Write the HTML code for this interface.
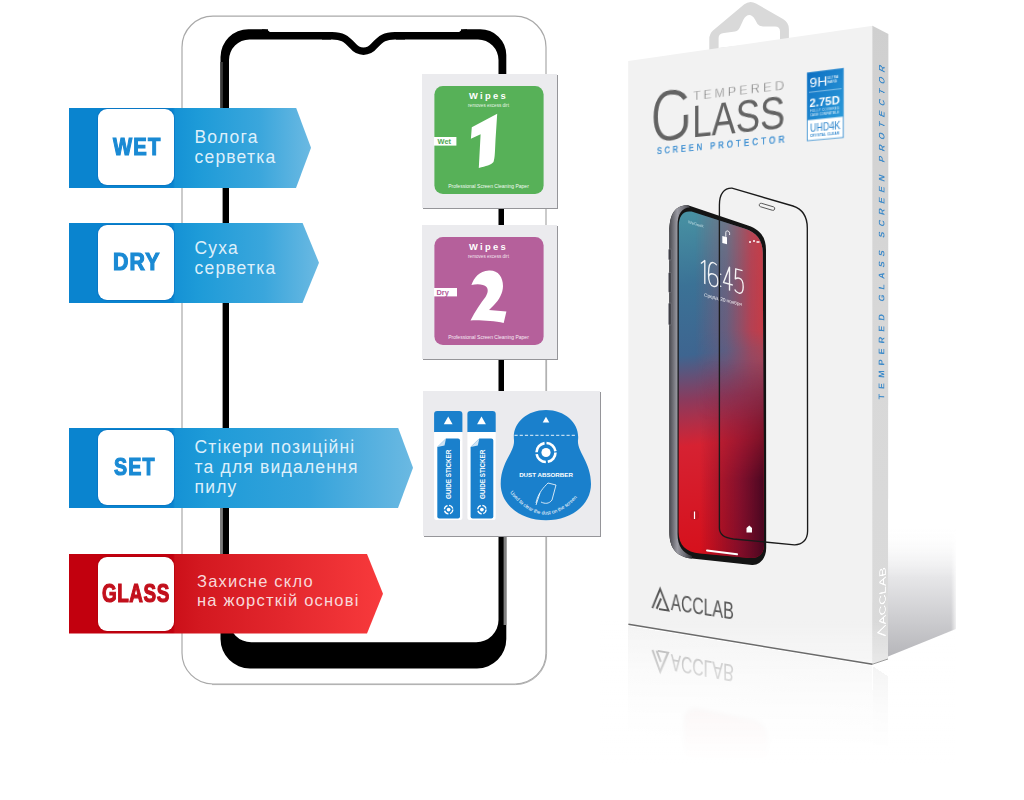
<!DOCTYPE html>
<html><head><meta charset="utf-8">
<style>
html,body{margin:0;padding:0;background:#fff;}
body{width:1024px;height:800px;position:relative;overflow:hidden;font-family:"Liberation Sans",sans-serif;}
.abs{position:absolute;}
svg{position:absolute;left:0;top:0;}
.ban{position:absolute;left:69px;}
.ban .shape{position:absolute;left:0;top:0;width:100%;height:100%;}
.box{position:absolute;left:29px;background:#fff;border-radius:9px;box-shadow:0 0 0 1px rgba(10,110,190,.55);}
.lbl{position:absolute;font-weight:bold;white-space:nowrap;transform-origin:0 0;line-height:1;-webkit-text-stroke:1.2px currentColor;}
.txt{position:absolute;color:rgba(245,251,255,0.9);font-size:17.5px;line-height:20px;white-space:nowrap;letter-spacing:1.2px;}
.pk{position:absolute;background:#ebebee;box-shadow:1px 1px 0 #959599;}
</style></head><body>

<!-- LEFT: phone frame illustration -->
<svg width="1024" height="800" viewBox="0 0 1024 800">
  <rect x="182" y="16.2" width="364" height="667.8" rx="31" ry="31" fill="none" stroke="#a9a9a9" stroke-width="1.2"/>
  <path d="M212 684.6 H515.6 A31 31 0 0 0 546.6 653.6 V300" stroke="#b0b0b0" stroke-width="1" fill="none"/>
  <path fill="#000" fill-rule="evenodd" d="
    M220.5 57 A28 28 0 0 1 248.5 29.2 L480 29.2 A26 26 0 0 1 506.3 55 L506.3 639 A29.4 29.4 0 0 1 477 668.4 L250 668.4 A29.5 29.5 0 0 1 220.5 639 Z
    M229 60 A20.5 20.5 0 0 1 249.5 39.5 L478 39.5 A20.5 20.5 0 0 1 498.5 60 L498.5 620 A22.3 22.3 0 0 1 476.2 642.3 L251.3 642.3 A22.3 22.3 0 0 1 229 620 Z"/>
  <rect x="268" y="27" width="193" height="5" fill="#fff"/>
  <rect x="219.5" y="150" width="3.1" height="300" fill="#fff"/>
  <rect x="220.3" y="450" width="2.6" height="175" fill="#7c7c7c"/>
  <rect x="220.3" y="62" width="2.6" height="90" fill="#3a3a3a"/>
  <rect x="504" y="150" width="3.5" height="380" fill="#fff"/>
  <rect x="503.6" y="530" width="2.7" height="95" fill="#808080"/>
  <path d="M262 29.2 Q268 29.2 270 32.2 L262 32.2 Z" fill="#000"/>
  <path d="M467 29.2 Q461 29.2 459 32.2 L467 32.2 Z" fill="#000"/>
  <rect x="331" y="31" width="65" height="10" fill="#fff"/>
  <path d="M322 35.75 H332 C342 35.75 346 38.5 352.5 45.5 C358.5 53 368.5 53 374.5 45.5 C381 38.5 385 35.75 395 35.75 H405" fill="none" stroke="#000" stroke-width="7.5"/>
</svg>

<!-- banners -->
<div class="ban" style="top:107.5px;width:242px;height:80.5px;">
  <div class="shape" style="clip-path:polygon(0 0,227px 0,242px 40.25px,227px 80.5px,0 80.5px);background:linear-gradient(90deg,#0a84cf 0px,#0a84cf 104px,#1592d5 106px,#1e9bd8 130px,#3aa6dc 190px,#6bb9e2 242px);"></div>
  <div class="box" style="top:1.3px;width:76px;height:76.5px;"></div>
</div>
<div class="ban" style="top:222.7px;width:250px;height:80.3px;">
  <div class="shape" style="clip-path:polygon(0 0,233.5px 0,250px 40.15px,233.5px 80.3px,0 80.3px);background:linear-gradient(90deg,#0a84cf 0px,#0a84cf 104px,#1592d5 106px,#1e9bd8 130px,#3aa6dc 195px,#6bb9e2 250px);"></div>
  <div class="box" style="top:2.3px;width:76px;height:75.5px;"></div>
</div>
<div class="ban" style="top:427.5px;width:344px;height:80.5px;">
  <div class="shape" style="clip-path:polygon(0 0,329px 0,344px 40.25px,329px 80.5px,0 80.5px);background:linear-gradient(90deg,#0a84cf 0px,#0a84cf 104px,#1592d5 106px,#1e9bd8 140px,#35a3db 240px,#6bb9e2 344px);"></div>
  <div class="box" style="top:2.3px;width:75.5px;height:75.7px;"></div>
</div>
<div class="ban" style="top:554px;width:314px;height:79.6px;">
  <div class="shape" style="clip-path:polygon(0 0,298px 0,314px 39.8px,298px 79.6px,0 79.6px);background:linear-gradient(90deg,#c2000e 0px,#c2000e 104px,#cc1019 106px,#d31820 130px,#e4282e 220px,#f83a3c 314px);"></div>
  <div class="box" style="top:2.6px;width:76.4px;height:74.7px;box-shadow:0 0 0 1px rgba(170,0,10,.5);"></div>
</div>

<!-- banner labels -->
<div class="lbl" style="left:112.8px;top:134.8px;font-size:24.4px;letter-spacing:0.06em;color:#1a8ad4;transform:scaleX(0.83);">WET</div>
<div class="lbl" style="left:113.3px;top:250.1px;font-size:24.2px;letter-spacing:0.05em;color:#1a8ad4;transform:scaleX(0.882);">DRY</div>
<div class="lbl" style="left:113.7px;top:455px;font-size:24.2px;letter-spacing:0.06em;color:#1a8ad4;transform:scaleX(0.813);">SET</div>
<div class="lbl" style="left:101.7px;top:581.3px;font-size:25.4px;letter-spacing:0.03em;color:#c2101c;transform:scaleX(0.743);">GLASS</div>

<div class="txt" style="left:194.5px;top:126.9px;">Волога<br>серветка</div>
<div class="txt" style="left:194.5px;top:238.4px;">Суха<br>серветка</div>
<div class="txt" style="left:194.5px;top:436.7px;">Стікери позиційні<br>та для видалення<br>пилу</div>
<div class="txt" style="left:197px;top:572px;color:#f8d8da;font-size:16.5px;line-height:18.5px;">Захисне скло<br>на жорсткій основі</div>


<!-- packets -->
<div class="pk" style="left:422px;top:73.6px;width:135px;height:134.4px;"></div>
<div class="pk" style="left:421.6px;top:225px;width:135.4px;height:134px;"></div>
<div class="pk" style="left:422.7px;top:391px;width:177.5px;height:145.2px;"></div>
<svg width="1024" height="800" viewBox="0 0 1024 800" style="font-family:'Liberation Sans',sans-serif;">
  <!-- wipes 1 -->
  <rect x="434.4" y="86" width="109.2" height="108" rx="8.5" fill="#57b158"/>
  <text x="488.5" y="99.3" fill="#fff" font-size="9.4" font-weight="bold" text-anchor="middle" letter-spacing="2.3">Wipes</text>
  <text x="488.5" y="106.5" fill="#e6f4e6" font-size="4.6" text-anchor="middle">removes excess dirt</text>
  <path d="M497.2 113.7 L471.8 127.3 L470.9 138.7 L480.6 134.3 L478.8 168 C486 166 491 165 493.5 162 C495 158 495 150 495.5 140 L497.2 113.7 Z" fill="#fff"/>
  <rect x="434" y="137" width="22.4" height="8.6" fill="#fff"/>
  <text x="437.6" y="144.2" fill="#4fa952" font-size="7.4" font-weight="bold">Wet</text>
  <text x="488.5" y="188" fill="#f2faf2" font-size="5" text-anchor="middle">Professional Screen Cleaning Paper</text>
  <!-- wipes 2 -->
  <rect x="434.4" y="237" width="109.2" height="108" rx="8.5" fill="#b5609b"/>
  <text x="488.5" y="250.3" fill="#fff" font-size="9.4" font-weight="bold" text-anchor="middle" letter-spacing="2.3">Wipes</text>
  <text x="488.5" y="257.5" fill="#f3e3ee" font-size="4.6" text-anchor="middle">removes excess dirt</text>
  <path d="M471.4 285 C474 278 479 271 489 270.5 C498 270 503 277 503 286 C503 293 499 300 494 305 L489 310 L506.4 311.5 L503.7 323 C494 321 480 320 470.5 320.5 C475 311 481 303 485.5 297 C488 293 488.5 289.5 486.5 287 C484 284 477 283.5 471.4 285 Z" fill="#fff"/>
  <rect x="434" y="288" width="23" height="8.4" fill="#fff"/>
  <text x="436.5" y="295.3" fill="#b25a98" font-size="7.4" font-weight="bold">Dry</text>
  <text x="488.5" y="339" fill="#f6eaf3" font-size="5" text-anchor="middle">Professional Screen Cleaning Paper</text>
  <!-- guide stickers -->
  <g id="gs">
    <rect x="434.1" y="431" width="28.3" height="89" rx="2.5" fill="#fff"/>
    <path d="M434.1 432 V414 Q434.1 410.9 437.2 410.9 H459.3 Q462.4 410.9 462.4 414 V432 Z" fill="#1a80cc"/>
    <path d="M448.2 416.5 L452.6 424.2 H443.8 Z" fill="#fff"/>
    <path d="M446 438.4 H458 Q460 438.4 460 440.4 V516.4 Q460 518.4 458 518.4 H439.3 Q437.3 518.4 437.3 516.4 V447 Z" fill="#1a80cc"/>
    <path d="M437.3 447 L446 438.4 L444.5 445.5 Z" fill="#cfe3f3"/>
    <text transform="translate(451.2 499) rotate(-90)" fill="#fff" font-size="6.3" font-weight="bold">GUIDE STICKER</text>
    <circle cx="448.6" cy="509.6" r="4.2" fill="none" stroke="#fff" stroke-width="1.3" stroke-dasharray="5 1.6"/>
    <circle cx="448.6" cy="509.6" r="1.9" fill="#fff"/>
  </g>
  <use href="#gs" transform="translate(33.3 0)"/>
  <!-- dust absorber -->
  <path d="M546 410 C566 410 580 424 578 440 C577 452 591 462 591 484 C591 505 571 520.3 546 520.3 C521 520.3 500.7 505 500.7 484 C500.7 462 515 452 514 440 C512 424 526 410 546 410 Z" fill="#1a80cc"/>
  <path d="M546 416.8 L549.3 422.6 H542.7 Z" fill="#fff"/>
  <line x1="514.5" y1="435.3" x2="576.5" y2="435.3" stroke="#fff" stroke-width="0.9" stroke-dasharray="3.2 2"/>
  <circle cx="546" cy="452.5" r="9.5" fill="none" stroke="#fff" stroke-width="2.6" stroke-dasharray="13 2"/>
  <circle cx="546" cy="452.5" r="4.6" fill="#fff"/>
  <text x="546" y="477" fill="#fff" font-size="6.2" font-weight="bold" text-anchor="middle">DUST ABSORBER</text>
  <path d="M536 503 C538 493 544 487 548 483 L556 485 L552 500 C549 504 545 504 541 502 M540 493 L536 505" fill="none" stroke="#fff" stroke-width="0.8"/>
  <path id="arc" d="M508 490 Q546 540 585 488" fill="none"/>
  <text fill="#fff" font-size="5"><textPath href="#arc" startOffset="3">Used to clear the dust on the screen</textPath></text>
</svg>

<!-- RIGHT: product box -->
<svg width="1024" height="800" viewBox="0 0 1024 800">
  <defs>
    <linearGradient id="shv" x1="0" y1="0" x2="0" y2="1">
      <stop offset="0" stop-color="#fff" stop-opacity="0"/>
      <stop offset="0.4" stop-color="#e6e6e8" stop-opacity="1"/>
      <stop offset="1" stop-color="#b6b6ba"/>
    </linearGradient>
    <linearGradient id="shh" x1="0" y1="0" x2="1" y2="0">
      <stop offset="0" stop-color="#fff"/>
      <stop offset="0.9" stop-color="#fff"/>
      <stop offset="1" stop-color="#000"/>
    </linearGradient>
    <mask id="shm"><rect x="888" y="480" width="70" height="200" fill="url(#shh)"/></mask>
  </defs>
  <polygon points="888,525 956,525 956,629 888,656.5" fill="url(#shv)" mask="url(#shm)"/>
  <linearGradient id="sideg" x1="0" y1="0" x2="0" y2="1"><stop offset="0" stop-color="#cfcfcf"/><stop offset="0.5" stop-color="#d8d8d8"/><stop offset="1" stop-color="#dadada"/></linearGradient>
  <!-- hanger tab -->
  <path fill="#d9d9d9" d="M709.3 50 L709.3 39 Q709.3 34 713 30.5 L744 4.5 Q749.8 0 756 3.5 L783 19 Q788.9 22.5 788.9 29 L788.9 40 Z
     M718.6 48 L718.6 38 Q718.6 33.5 724 33 L735 31.5 Q738.5 31 740.5 26 L743.5 19.5 Q746 15 749.3 15 Q752.5 15 755 19.5 L757.5 24 Q759 26.4 763 26.4 L775 26.4 Q780 26.4 780 31.5 L780 41 Z" fill-rule="evenodd"/>
  <polygon points="628.2,61 872.9,25.75 872.5,664 628.4,624.1" fill="#f2f2f2"/>
  <polygon points="872.4,25.75 888.4,34 888,658.9 872.2,664" fill="url(#sideg)"/>
</svg>

<!-- reflection -->
<div class="abs" style="left:0;top:0;width:244px;height:600px;transform-origin:0 0;transform:matrix3d(0.58113861,-0.15787426,0,-0.00048313695,0.0027053689,-0.93602767,0,3.7747223e-06,0,0,1,0,628.2,1189.1346,0,1);background:linear-gradient(180deg,#fff 0,#fff 70%,#f4f4f4 100%);">
  <svg width="244" height="600" viewBox="0 0 244 600" style="position:absolute;left:0;top:0;">
    <g fill="none" stroke="#aaa" stroke-width="2.2" style="filter:blur(0.5px)">
      <path d="M27 579 L35.3 557.7 L44 579 H33"/><path d="M31.5 579 L36 568"/>
    </g>
    <text x="47" y="578" font-family="Liberation Sans" font-size="23" fill="#aaa" textLength="66" lengthAdjust="spacingAndGlyphs" style="filter:blur(0.5px)">ACCLAB</text>
    <rect x="62" y="468" width="84" height="58" rx="14" fill="#f3e2e2" stroke="#e4e0e0" stroke-width="2" opacity="0.8" style="filter:blur(2px)"/>
  </svg>
</div>
<div class="abs" style="left:0;top:0;width:16px;height:600px;transform-origin:0 0;transform:matrix3d(2.1552037,1.5388173,0,0.0013354949,0.00013520468,-1.0633559,0,9.1905026e-07,0,0,1,0,872.9,1304.3808,0,1);background:linear-gradient(180deg,#fff 0,#fff 80%,#ececec 100%);"></div>
<svg width="1024" height="800" viewBox="0 0 1024 800">
  <defs>
    <linearGradient id="rf" x1="0" y1="0" x2="0" y2="1">
      <stop offset="0" stop-color="#fff" stop-opacity="0"/>
      <stop offset="0.3" stop-color="#fff" stop-opacity="0.5"/>
      <stop offset="0.8" stop-color="#fff" stop-opacity="1"/>
      <stop offset="1" stop-color="#fff" stop-opacity="1"/>
    </linearGradient>
  </defs>
  <path d="M600 620 H888 V659 L956 628 V800 H600 Z" fill="url(#rf)"/>
</svg>

<!-- front face -->
<div class="abs" style="left:0;top:0;width:244px;height:600px;transform-origin:0 0;transform:matrix3d(0.58113861,-0.15690799,0,-0.00048313695,0.0027053689,0.9408558,0,3.7747223e-06,0,0,1,0,628.2,61,0,1);">
  <svg width="244" height="600" viewBox="0 0 244 600" style="position:absolute;left:0;top:0;font-family:'Liberation Sans',sans-serif;">
    <text x="71" y="49.6" font-size="12.6" fill="#7a7a7a" stroke="#f2f2f2" stroke-width="0.3" paint-order="normal" textLength="91.5" lengthAdjust="spacing">TEMPERED</text>
    <path d="M62.6 47.3 C59 41 53 38.85 46.5 38.85 C36.5 38.85 30.65 48 30.65 62.8 C30.65 78 37 86.75 46.5 86.75 C55.5 86.75 63.15 82 63.15 72 L63.15 64" fill="none" stroke="#636363" stroke-width="4.6"/>
    <text x="70" y="88" font-size="46.5" fill="#636363" textLength="93.5" lengthAdjust="spacingAndGlyphs">LASS</text>
    <text transform="translate(32 101.8) scale(0.8 1)" x="0" y="0" font-size="9.8" fill="#3389cf" stroke="#3389cf" stroke-width="0.35" textLength="163.5" lengthAdjust="spacing">SCREEN PROTECTOR</text>
    <!-- badge -->
    <defs><linearGradient id="bdg" x1="0" y1="0" x2="1" y2="1"><stop offset="0" stop-color="#0e6fc2"/><stop offset="1" stop-color="#2b9ad9"/></linearGradient></defs>
    <rect x="184.5" y="36.6" width="33.2" height="65.6" fill="#fff" stroke="#3a8fd0" stroke-width="0.8"/>
    <rect x="184.5" y="36.6" width="33.2" height="45.8" fill="url(#bdg)"/>
    <line x1="186" y1="55.6" x2="216" y2="55.6" stroke="#bfe0f5" stroke-width="0.6"/>
    <text x="186.5" y="51" font-size="13" fill="#fff">9H</text>
    <text x="203" y="45.5" font-size="3.2" fill="#fff">ULTRA</text>
    <text x="203" y="49.5" font-size="3.2" fill="#fff">HARD</text>
    <text x="186.5" y="70.5" font-size="10" font-weight="bold" fill="#fff" textLength="28" lengthAdjust="spacingAndGlyphs">2.75D</text>
    <text x="187" y="75.5" font-size="2.8" fill="#e5f2fb" textLength="27">FULLY COVERED</text>
    <text x="187" y="79" font-size="2.8" fill="#e5f2fb" textLength="27">CASE COMPATIBLE</text>
    <text x="187" y="94.5" font-size="10" fill="#2d85cc" textLength="28" lengthAdjust="spacingAndGlyphs">UHD4K</text>
    <text x="187" y="99.5" font-size="3" font-weight="bold" fill="#2d85cc" textLength="27">CRYSTAL CLEAR</text>
    <!-- logo -->
    <g fill="none" stroke="#555" stroke-width="2">
      <path d="M26.8 579 L35.3 557.7 L44.5 579 H34"/><path d="M31.5 579 L36.3 567.5"/>
    </g>
    <text x="47" y="578" font-size="23" fill="#555" textLength="66" lengthAdjust="spacingAndGlyphs">ACCLAB</text>
  </svg>
</div>
<!-- side face -->
<div class="abs" style="left:0;top:0;width:16px;height:600px;transform-origin:0 0;transform:matrix3d(2.1552037,0.56103183,0,0.0013354949,0.00013520468,1.0643602,0,9.1905026e-07,0,0,1,0,872.9,25.75,0,1);">
  <svg width="16" height="600" viewBox="0 0 16 600" style="position:absolute;left:0;top:0;font-family:'Liberation Sans',sans-serif;">
    <text transform="translate(11.8 351) rotate(-90)" font-size="8.4" font-weight="bold" fill="#3f8bc9" textLength="318" lengthAdjust="spacing">TEMPERED GLASS SCREEN PROTECTOR</text>
    <text transform="translate(13.6 566) rotate(-90)" font-size="9.5" fill="#fff" textLength="55" lengthAdjust="spacingAndGlyphs">ACCLAB</text>
    <g transform="translate(0 0)" fill="none" stroke="#fff" stroke-width="1.2"><path d="M13.5 577 L5.5 572 L13.5 567"/></g>
  </svg>
</div>

<!-- phone on box -->
<svg width="1024" height="800" viewBox="0 0 1024 800" style="font-family:'Liberation Sans',sans-serif;">
  <defs>
    <clipPath id="scr"><path d="M678.8 226 C678.8 216 683 210.3 691.5 211.6 L745 228.8 C756 232.5 762.8 240 762.8 253 L764 545 C764 553.5 758.5 558.6 750 558 L700 553.6 C686 552.3 678.6 545 678.6 532 Z"/></clipPath>
    <linearGradient id="sbase" gradientUnits="userSpaceOnUse" x1="690" y1="215" x2="730" y2="560">
      <stop offset="0" stop-color="#4790a2"/>
      <stop offset="0.2" stop-color="#3b7296"/>
      <stop offset="0.4" stop-color="#3e6590"/>
      <stop offset="0.53" stop-color="#8c3a5c"/>
      <stop offset="0.66" stop-color="#d62232"/>
      <stop offset="1" stop-color="#d60f1a"/>
    </linearGradient>
    <linearGradient id="sright" gradientUnits="userSpaceOnUse" x1="695" y1="0" x2="765" y2="0">
      <stop offset="0" stop-color="#c84050" stop-opacity="0"/>
      <stop offset="0.45" stop-color="#b84858" stop-opacity="0.35"/>
      <stop offset="0.8" stop-color="#c83a48" stop-opacity="0.85"/>
      <stop offset="1" stop-color="#d03840" stop-opacity="0.95"/>
    </linearGradient>
    <linearGradient id="smar" gradientUnits="userSpaceOnUse" x1="700" y1="0" x2="765" y2="0">
      <stop offset="0" stop-color="#5a0a2a" stop-opacity="0"/>
      <stop offset="0.6" stop-color="#620c2e" stop-opacity="0.7"/>
      <stop offset="1" stop-color="#3e0620" stop-opacity="0.95"/>
    </linearGradient>
    <linearGradient id="vtop" gradientUnits="userSpaceOnUse" x1="0" y1="220" x2="0" y2="420">
      <stop offset="0" stop-color="#fff"/><stop offset="0.55" stop-color="#fff"/><stop offset="1" stop-color="#000"/>
    </linearGradient>
    <linearGradient id="vbot" gradientUnits="userSpaceOnUse" x1="0" y1="360" x2="0" y2="480">
      <stop offset="0" stop-color="#000"/><stop offset="1" stop-color="#fff"/>
    </linearGradient>
    <mask id="mtop"><rect x="660" y="200" width="120" height="370" fill="url(#vtop)"/></mask>
    <mask id="mbot"><rect x="660" y="200" width="120" height="370" fill="url(#vbot)"/></mask>
    <linearGradient id="metal" x1="0" y1="0" x2="1" y2="0">
      <stop offset="0" stop-color="#4a4a50"/><stop offset="0.35" stop-color="#9a9aa2"/><stop offset="0.7" stop-color="#6a6a72"/><stop offset="1" stop-color="#2a2a2e"/>
    </linearGradient>
  </defs>
  <!-- body -->
  <path fill="#141414" d="M669.4 232 C669.4 214 675 205 688 205.3 L748 225.5 C760 229.5 766 237 766 250 L766.2 548 C766.2 558 760 565.5 752 565 L692 558.5 C677 557 669.4 549 669.4 532 Z"/>
  <path fill="url(#metal)" d="M669.4 232 C669.4 214 675 205 688 205.3 L690 207.5 C682 207.5 677.5 214 677.5 226 L677.5 534 C677.5 546 683 553 692 556 L692 558.5 C677 557 669.4 549 669.4 532 Z"/>
  <g fill="#3a3a40" stroke="#8a8a92" stroke-width="0.5"><rect x="668.6" y="249" width="2.6" height="11" rx="1"/><rect x="668.6" y="272.5" width="2.6" height="20" rx="1"/><rect x="668.6" y="303" width="2.6" height="22" rx="1"/></g>
  <!-- screen -->
  <g clip-path="url(#scr)">
    <rect x="660" y="200" width="120" height="370" fill="url(#sbase)"/>
    <rect x="660" y="200" width="120" height="370" fill="url(#sright)" mask="url(#mtop)"/>
    <rect x="660" y="200" width="120" height="370" fill="url(#smar)" mask="url(#mbot)"/>
  </g>
  <!-- lock screen details -->
  <text transform="translate(688 223) skewY(17)" font-size="4" fill="#d8eef2" opacity="0.8">WeGeek</text>
  <path d="M722.3 236 L727 237.2 L727 244.2 L722.3 243 Z" fill="#fff"/><path d="M725.8 236.8 V232.5 C725.8 230 729.6 230.5 729.6 233.5 V235" fill="none" stroke="#fff" stroke-width="0.9"/>
  <g transform="translate(701 283) skewY(15)" fill="none" stroke="#fff" stroke-width="1.35" opacity="0.92" stroke-linejoin="round">
    <path d="M0 -19.5 L3.8 -23.5 V0"/>
    <path d="M15.8 -22 C14.5 -23.3 13.3 -23.6 12.2 -23.6 C9 -23.6 7.5 -19 7.5 -11 C7.5 -3.5 9.3 0 12.2 0 C15 0 16.9 -2.5 16.9 -6.2 C16.9 -10 15 -12.3 12.2 -12.3 C9.7 -12.3 7.8 -10.3 7.5 -7.5"/>
    <path d="M28.5 0 V-23.5 L22.5 -6.5 H31.8"/>
    <path d="M41.5 -23.5 H34.8 L34.3 -13.3 C35.5 -14.5 37 -15 38.2 -15 C40.8 -15 42.2 -12 42.2 -7.5 C42.2 -2.5 40.5 0 37.8 0 C36 0 34.5 -1 33.7 -2.5"/>
    <circle cx="19.6" cy="-14" r="0.8" fill="#fff" stroke="none"/><circle cx="19.6" cy="-2" r="0.8" fill="#fff" stroke="none"/>
  </g>
  <text transform="translate(704 296.5) skewY(14)" font-size="5" fill="#fff" opacity="0.85" textLength="38">Среда, 20 ноября</text>
  <path d="M707 550.5 L737 554.3" stroke="#fff" stroke-width="2" stroke-linecap="round"/>
  <rect x="690" y="510" width="9" height="10" rx="4" fill="#b21622" opacity="0.6"/>
  <path d="M694.5 511.5 V519" stroke="#fff" stroke-width="1.2"/>
  <path d="M746.5 528 L749.3 525.5 L752 528 V532.5 H746.5 Z" fill="#fff"/>
  <path d="M749 242 h2 M753 241 h2 M756.5 242 h3" stroke="#fff" stroke-width="1.6"/>
  <!-- protector -->
  <path fill="none" stroke="#1a1a1a" stroke-width="1.35" d="M719.4 528 L719.4 205 C719.4 194 724 188 732 188.2 L793 206 C802 209 807.3 216.5 807.3 228 L807.6 531 C807.6 540 802 545 794.4 544.8 L733.4 539 C725 538 719.4 535 719.4 528 Z"/>
  <rect x="759" y="205" width="16" height="3.6" rx="1.8" fill="none" stroke="#555" stroke-width="0.9" transform="rotate(16.5 767 206.8)"/>
</svg>
<svg width="1024" height="800" viewBox="0 0 1024 800">
  <line x1="628.4" y1="624.3" x2="872.5" y2="664.2" stroke="#6a6a6a" stroke-width="1.5"/>
  <line x1="872.5" y1="664.2" x2="888" y2="659" stroke="#9a9a9a" stroke-width="1"/>
</svg>
</body></html>
